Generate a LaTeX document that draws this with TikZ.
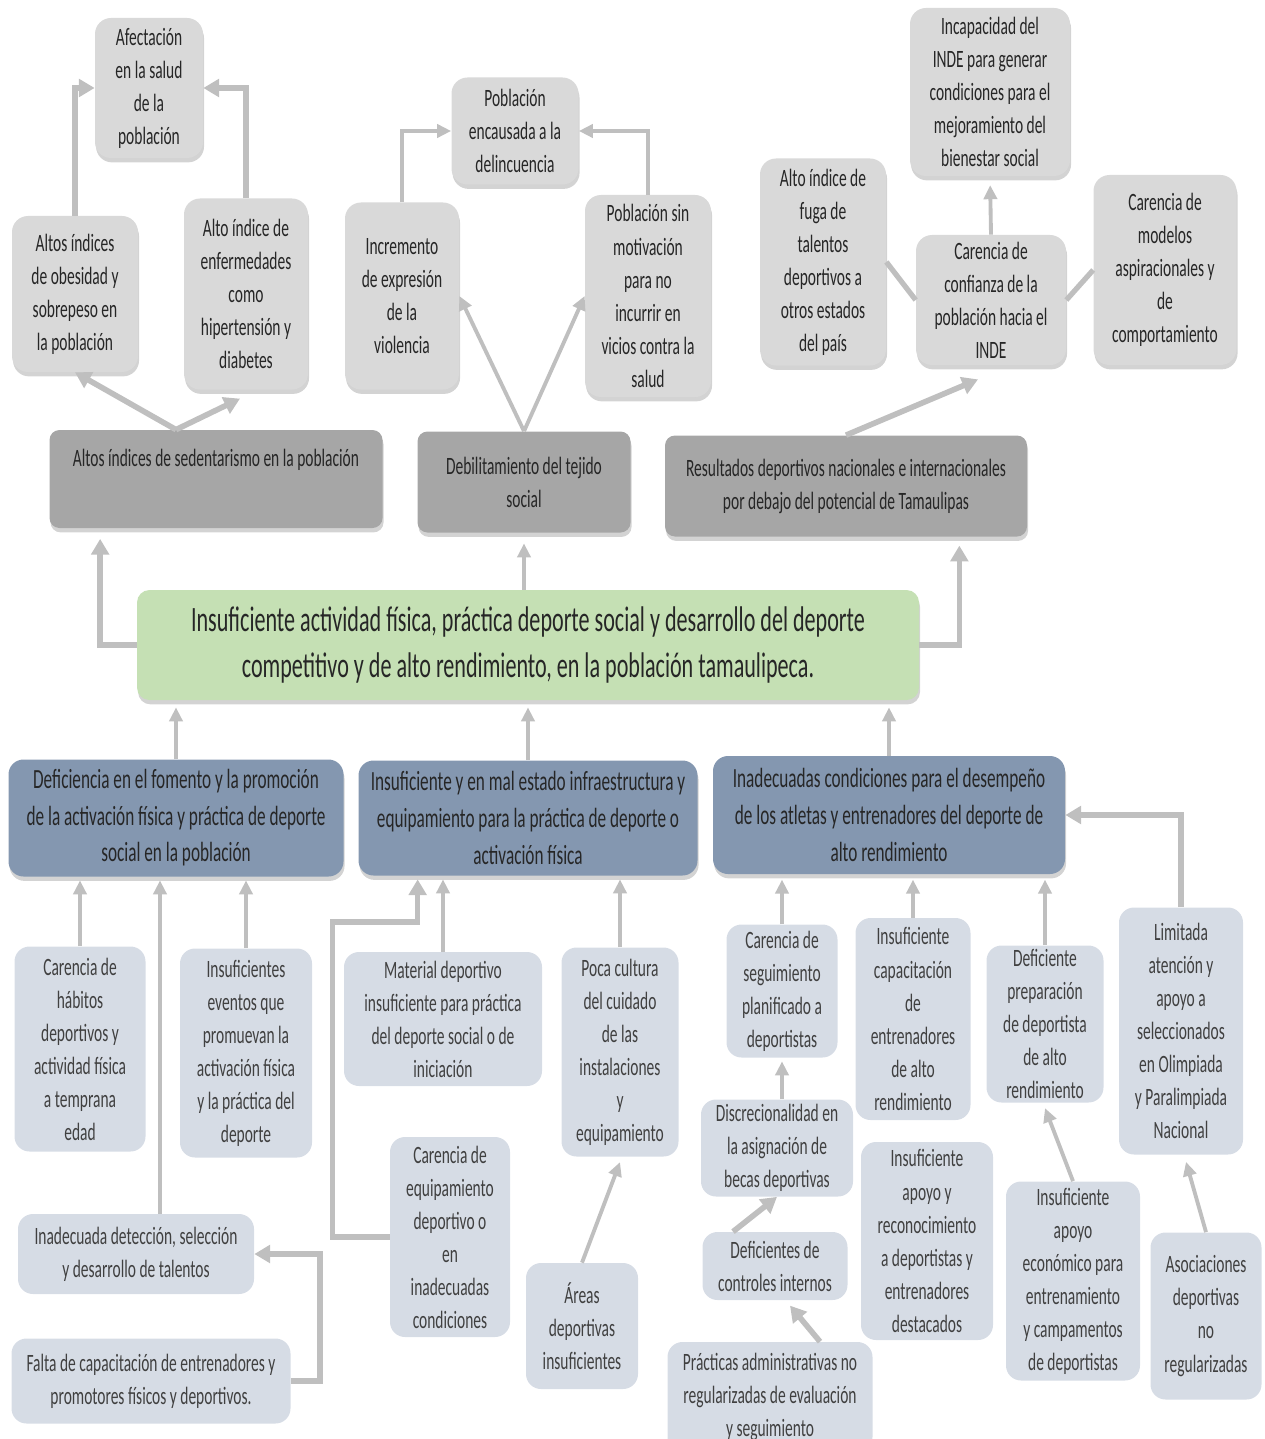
\documentclass[tikz,border=0pt]{standalone}
\usepackage{fontspec}
\setmainfont{Carlito}[FakeStretch=0.62]
\usepackage{tikz}
\usetikzlibrary{shadows}
\usetikzlibrary{arrows.meta,calc}

\definecolor{topgray}{HTML}{D9D9D9}
\definecolor{midgray}{HTML}{A6A6A6}
\definecolor{maingreen}{HTML}{C5E0B4}
\definecolor{headblue}{HTML}{8497B0}
\definecolor{lowblue}{HTML}{D6DCE5}
\definecolor{linkgray}{HTML}{BFBFBF}

\newcommand\boxtxt{\fontsize{14.2pt}{18.8pt}\selectfont}
\newcommand\headtxt{\fontsize{15.8pt}{20.8pt}\selectfont}
\newcommand\maintxt{\fontsize{20.3pt}{26.7pt}\selectfont}

\def\pxu{0.02cm}

\begin{document}
\begin{tikzpicture}[x=0.02cm, y=-0.02cm,
  topbox/.style={fill=topgray, rounded corners=0.32cm, align=center, inner sep=0pt,
    font=\boxtxt, text=black!85,
    drop shadow={shadow xshift=0.6pt, shadow yshift=-2.5pt, opacity=0.35}},
  midbox/.style={topbox, fill=midgray, rounded corners=0.2cm},
  mainbox/.style={topbox, fill=maingreen, rounded corners=0.25cm, font=\maintxt},
  headbox/.style={topbox, fill=headblue, rounded corners=0.3cm, font=\headtxt},
  lowbox/.style={fill=lowblue, rounded corners=0.3cm, align=center, inner sep=0pt,
    font=\boxtxt, text=black!75},
  link/.style={draw=linkgray, line width=2.2pt, -{Triangle[length=8pt,width=7.5pt]}},
  fatlink/.style={link, line width=3.2pt, -{Triangle[length=9pt,width=10pt]}},
  bare/.style={draw=linkgray, line width=3pt}]

 \useasboundingbox (0,0) rectangle (1264,1439);

 %level 1: effects
 \foreach \nm/\x/\y/\w/\h/\txt in {
   afect/149/88/108/140/Afectación\\en la salud\\de la\\población,
   obes/75/294/126/156/Altos índices\\de obesidad y\\sobrepeso en\\la población,
   enferm/246/294/124/191/Alto índice de\\enfermedades\\como\\hipertensión y\\diabetes,
   delinc/515/131/127/107/Población\\encausada a la\\delincuencia,
   violen/402/296/114/187/Incremento\\de expresión\\de la\\violencia,
   motiv/648/296/126/202/Población  sin\\motivación\\para no\\incurrir en\\vicios contra la\\salud,
   incap/990/92/160/168/Incapacidad del\\INDE para generar\\condiciones para el\\mejoramiento del\\bienestar social,
   fuga/823/262/126/207/Alto índice de\\fuga de\\talentos\\deportivos a\\otros estados\\del país,
   confi/991/300/150/130/Carencia de\\confianza de la\\población hacia el\\INDE,
   model/1165/270/143/190/Carencia de\\modelos\\aspiracionales y\\de\\comportamiento} {
   \node[topbox, minimum width=\w*\pxu, minimum height=\h*\pxu] (\nm) at (\x,\y) {\txt};
 }

 %level 2
 \foreach \nm/\x/\y/\w/\h/\txt in {
   sedent/216/479/333/98/Altos índices de sedentarismo en la población\\\strut,
   tejido/524/482/213/101/Debilitamiento del tejido\\social,
   result/846/486/362/101/Resultados deportivos nacionales e internacionales\\por debajo del potencial de Tamaulipas} {
   \node[midbox, minimum width=\w*\pxu, minimum height=\h*\pxu] (\nm) at (\x,\y) {\txt};
 }

 %central problem
 \node[mainbox, minimum width=782*\pxu, minimum height=110*\pxu] (main) at (528,645)
   {Insuficiente actividad física, práctica deporte social y desarrollo del deporte\\competitivo y de alto rendimiento, en la población tamaulipeca.};

 %level 3: causes
 \foreach \nm/\x/\y/\w/\h/\txt in {
   fomento/176/818/335/117/Deficiencia en el fomento  y la promoción\\de la activación física y práctica de deporte\\social en la población,
   infra/528/818/339/115/Insuficiente y en mal estado infraestructura y\\equipamiento para la práctica de deporte o\\activación física,
   atletas/889/815/352/118/Inadecuadas condiciones para el desempeño\\de los atletas y entrenadores del deporte de\\alto rendimiento} {
   \node[headbox, minimum width=\w*\pxu, minimum height=\h*\pxu] (\nm) at (\x,\y) {\txt};
 }

 %level 4
 \foreach \nm/\x/\y/\w/\h/\txt in {
   habit/80/1049/131/205/Carencia de\\hábitos\\deportivos y\\actividad física\\a temprana\\edad,
   event/246/1053/132/209/Insuficientes\\eventos que\\promuevan la\\activación física\\y la práctica del\\deporte,
   falta/151/1381/279/85/Falta de capacitación de entrenadores y\\promotores físicos y deportivos.,
   mater/443/1019/198/134/Material deportivo\\insuficiente para práctica\\del deporte social o de\\iniciación,
   equip/450/1237/120/200/Carencia de\\equipamiento\\deportivo o\\en\\inadecuadas\\condiciones,
   cultura/620/1052/117/209/Poca cultura\\del cuidado\\de las\\instalaciones\\y\\equipamiento,
   areas/582/1326/112/126/Áreas\\deportivas\\insuficientes,
   seguim/782/991/111/133/Carencia de\\seguimiento\\planificado a\\deportistas,
   becas/777/1148/152/97/Discrecionalidad en\\la asignación de\\becas deportivas,
   control/775/1266/145/68/Deficientes de\\controles internos,
   practic/770/1397/205/110/Prácticas administrativas no\\regularizadas de evaluación\\y seguimiento,
   capac/913/1019/115/202/Insuficiente\\capacitación\\de\\entrenadores\\de alto\\rendimiento,
   recon/927/1241/132/198/Insuficiente\\apoyo y\\reconocimiento\\a deportistas y\\entrenadores\\destacados,
   prepar/1045/1024/117/157/Deficiente\\preparación\\de deportista\\de alto\\rendimiento,
   econ/1073/1281/134/199/Insuficiente\\apoyo\\económico para\\entrenamiento\\y campamentos\\de deportistas,
   limit/1181/1031/124/247/Limitada\\atención y\\apoyo a\\seleccionados\\en Olimpiada\\y Paralimpiada\\Nacional,
   asoc/1206/1316/111/167/Asociaciones\\deportivas\\no\\regularizadas} {
   \node[lowbox, minimum width=\w*\pxu, minimum height=\h*\pxu] (\nm) at (\x,\y) {\txt};
 }
 \node[lowbox, minimum width=236*\pxu, minimum height=80*\pxu] (talent) at (136,1254)
   {Inadecuada detección, selección\\y desarrollo de talentos};

 %links, top
 \draw[fatlink] (obes.north) |- (afect.west);
 \draw[fatlink] (enferm.north) |- (afect.east);
 \draw[link] (violen.north) |- (delinc.west);
 \draw[link] (motiv.north) |- (delinc.east);
 \draw[link, shorten >=5pt] (confi.north) -- (incap.south);
 \draw[bare] (fuga.east) -- (confi.west);
 \draw[bare] (model.west) -- (confi.east);
 \draw[fatlink] ([xshift=-40*\pxu]sedent.north) -- (obes.south);
 \draw[fatlink] ([xshift=-40*\pxu]sedent.north) -- ([xshift=-6*\pxu, yshift=-5pt]enferm.south);
 \draw[link] (tejido.north) -- (violen.east);
 \draw[link] (tejido.north) -- (motiv.west);
 \draw[fatlink] (result.north) -- ([xshift=-13*\pxu, yshift=-8pt]confi.south);

 %links, centre
 \draw[fatlink] (main.west) -| ([xshift=51*\pxu, yshift=-6pt]sedent.south west);
 \draw[link, shorten >=6pt] (tejido.south |- main.north) -- (tejido.south);
 \draw[fatlink] (main.east) -| ([xshift=-68*\pxu, yshift=-5pt]result.south east);
 \foreach \nm in {fomento, infra, atletas}
   \draw[link, shorten >=4pt] (\nm.north) -- (\nm.north |- main.south);

 %links, bottom
 \draw[link, shorten >=2pt] (habit.north) -- (habit.north |- fomento.south);
 \draw[link, shorten >=2pt] ([xshift=24*\pxu]talent.north) coordinate (t1) -- (t1 |- fomento.south);
 \draw[link, shorten >=2pt] (event.north) -- (event.north |- fomento.south);
 \draw[fatlink] (falta.east) -- ++(29,0) |- (talent.east);
 \draw[fatlink, shorten >=2pt] (equip.west) -- ++(-57,0) |- ++(85,-315) coordinate (e1) -- (e1 |- infra.south);
 \draw[link, shorten >=2pt] (mater.north) -- (mater.north |- infra.south);
 \draw[link, shorten >=2pt] (cultura.north) -- (cultura.north |- infra.south);
 \draw[link] (areas.north) -- ([yshift=-3pt]cultura.south);
 \draw[link, shorten >=3pt] (seguim.north) -- (seguim.north |- atletas.south);
 \draw[link, shorten >=2pt] (becas.north -| seguim.south) -- (seguim.south);
 \draw[fatlink] ([xshift=-42*\pxu]control.north) -- (becas.south);
 \draw[fatlink] ([xshift=50*\pxu]practic.north) -- ([xshift=15*\pxu, yshift=-3pt]control.south);
 \draw[link, shorten >=3pt] (capac.north) -- (capac.north |- atletas.south);
 \draw[link, shorten >=3pt] (prepar.north) -- (prepar.north |- atletas.south);
 \draw[link] (econ.north) -- ([yshift=-3pt]prepar.south);
 \draw[fatlink] (limit.north) |- (atletas.east);
 \draw[link] (asoc.north) -- ([xshift=5*\pxu, yshift=-4pt]limit.south);

\end{tikzpicture}
\end{document}
